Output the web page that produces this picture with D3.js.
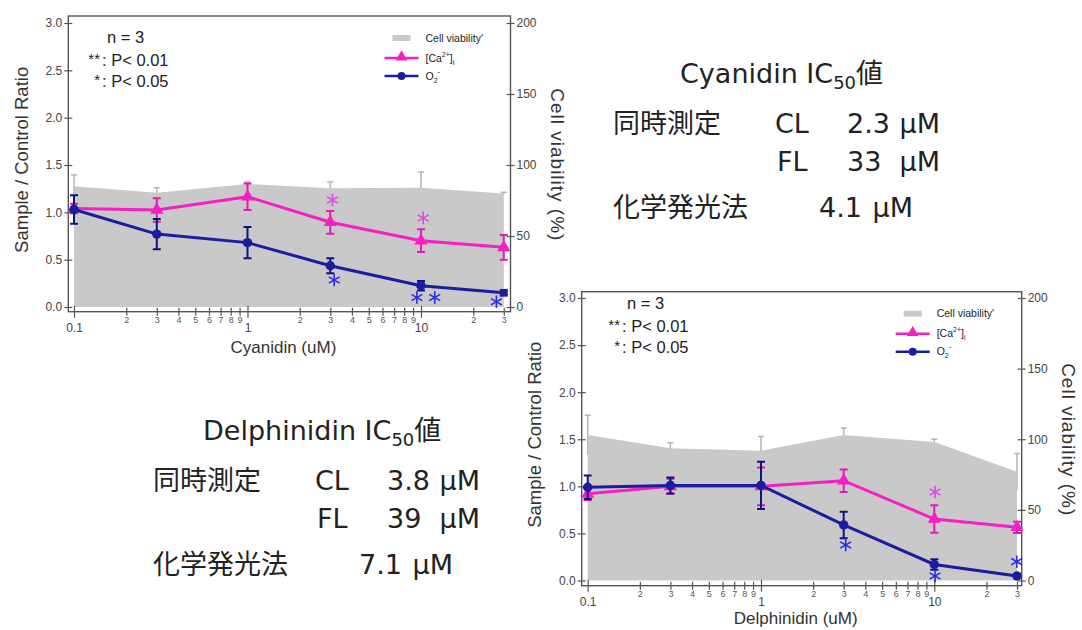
<!DOCTYPE html>
<html>
<head>
<meta charset="utf-8">
<title>Cyanidin / Delphinidin IC50</title>
<script src="https://d3js.org/d3.v7.min.js"></script>
<style>
  body { margin: 0; background: #fff; }
  svg { display: block; font-family: "Liberation Sans", Arial, sans-serif; }
  .axis text { fill: #444; }
  .axis line { stroke: #555; stroke-width: 1.2; }
  .jp { font-family: "DejaVu Sans", "Noto Sans CJK JP", sans-serif; fill: #222; font-size: 27px; }
  .jp .cjk { font-family: "Noto Sans CJK JP", sans-serif; }
</style>
</head>
<body>
<svg id="chart" width="1082" height="630"></svg>
<script>
// concentrations (uM) shared by both panels
const conc = [0.1, 0.3, 1, 3, 10, 30];

// Cyanidin panel
const cyaCa = [1.04, 1.025, 1.165, 0.895, 0.70, 0.63];
const cyaCaErr = [0.05, 0.125, 0.14, 0.12, 0.12, 0.13];
const cyaO2 = [1.03, 0.77, 0.68, 0.436, 0.225, 0.15];
const cyaO2Err = [0.15, 0.16, 0.165, 0.08, 0.05, 0.02];
const cyaViab = [85, 80.5, 86.6, 83.6, 84, 80];
const cyaViabErr = [8, 3.5, 1.5, 4.4, 11, 0.8];
const cyaCaStars = [[3.09, 1.13], [10.3, 0.94]];
const cyaO2Stars = [[3.16, 0.285], [9.47, 0.10], [12.0, 0.10], [27.2, 0.055]];

// Delphinidin panel
const delCa = [0.92, 1.0, 1.0, 1.06, 0.653, 0.565];
const delCaErr = [0.065, 0.08, 0.2, 0.12, 0.145, 0.06];
const delO2 = [0.99, 1.01, 1.01, 0.59, 0.17, 0.048];
const delO2Err = [0.125, 0.085, 0.25, 0.14, 0.055, 0.02];
const delViab = [103, 93.6, 91.9, 103, 98, 77];
const delViabErr = [14, 4, 10, 5, 2, 13];
const delCaStars = [[10.1, 0.94]];
const delO2Stars = [[3.08, 0.377], [10.1, 0.048], [29.9, 0.20]];

// axis ticks
const ratioTicks = [0, 0.5, 1, 1.5, 2, 2.5, 3];
const viabTicks = [0, 50, 100, 150, 200];
const majorTicks = [0.1, 1, 10];
const minorTicks = [0.2, 0.3, 0.4, 0.5, 0.6, 0.7, 0.8, 0.9, 2, 3, 4, 5, 6, 7, 8, 9, 20, 30];

// IC50 tables
const cyaTable = { name: "Cyanidin", cl: "2.3", fl: "33", chem: "4.1" };
const delTable = { name: "Delphinidin", cl: "3.8", fl: "39", chem: "7.1" };

const MAG = "#f71ec2", MAG_ERR = "#e21ab6", MAG_STAR = "#d94ce0";
const BLUE = "#1c1ca0", BLUE_ERR = "#12127e", BLUE_STAR = "#2c2ce2";
const GRAY = "#c9c9c9", GRAY_ERR = "#b5b5b5";

const svg = d3.select("#chart");

function drawChart(c) {
  const x = d3.scaleLog().domain([0.1, 10]).range([c.x01, c.x10]);
  const y = d3.scaleLinear().domain([0, 3]).range([c.y0, c.y3]);
  const yR = d3.scaleLinear().domain([0, 200]).range([c.y0, c.y3]);
  const g = svg.append("g");

  // viability error bars (drawn under the fill, like the original)
  const viab = conc.map((d, i) => ({ c: d, v: c.viab[i], e: c.viabErr[i] }));
  g.selectAll(".verr").data(viab).join("path")
    .attr("d", d => `M${x(d.c)},${yR(d.v - d.e)}V${yR(d.v + d.e)}M${x(d.c) - 3},${yR(d.v + d.e)}h6`)
    .attr("stroke", GRAY_ERR).attr("stroke-width", 1.5).attr("fill", "none");

  g.append("path").datum(viab)
    .attr("d", d3.area().x(d => x(d.c)).y0(yR(0)).y1(d => yR(d.v)))
    .attr("fill", GRAY);

  // axes
  const left = g.append("g").attr("class", "axis").attr("transform", `translate(${c.left},0)`)
    .call(d3.axisLeft(y).tickValues(ratioTicks).tickFormat(d3.format(".1f")).tickSize(0).tickPadding(6));
  left.selectAll(".tick line").attr("x1", -4).attr("x2", 4);
  left.selectAll("text").style("font-size", "12px");

  const right = g.append("g").attr("class", "axis").attr("transform", `translate(${c.right},0)`)
    .call(d3.axisRight(yR).tickValues(viabTicks).tickSize(0).tickPadding(6));
  right.selectAll(".tick line").attr("x1", -4).attr("x2", 4);
  right.selectAll("text").style("font-size", "12px");

  const bottomMajor = g.append("g").attr("class", "axis").attr("transform", `translate(0,${c.bottom})`)
    .call(d3.axisBottom(x).tickValues(majorTicks).tickFormat(d => String(d)).tickSize(0));
  bottomMajor.selectAll(".tick line").attr("y1", -6).attr("y2", 6);
  bottomMajor.selectAll("text").attr("y", 20.5).attr("dy", 0).style("font-size", "12px");

  const bottomMinor = g.append("g").attr("class", "axis").attr("transform", `translate(0,${c.bottom})`)
    .call(d3.axisBottom(x).tickValues(minorTicks)
      .tickFormat(d => String(Math.round(d / Math.pow(10, Math.floor(Math.log10(d) + 1e-9))))).tickSize(0));
  bottomMinor.selectAll(".tick line").attr("y1", -4).attr("y2", 4);
  bottomMinor.selectAll("text").attr("y", 11).attr("dy", 0).style("font-size", "9px").style("fill", "#555");

  g.selectAll(".axis .domain").remove();
  g.append("rect")
    .attr("x", c.left).attr("y", c.top)
    .attr("width", c.right - c.left).attr("height", c.bottom - c.top)
    .attr("fill", "none").attr("stroke", "#555").attr("stroke-width", 1.4);

  // series
  const series = [
    { v: c.ca, e: c.caErr, col: MAG, ecol: MAG_ERR, mark: "tri" },
    { v: c.o2, e: c.o2Err, col: BLUE, ecol: BLUE_ERR, mark: "dot" }
  ];
  series.forEach(s => {
    const pts = conc.map((d, i) => ({ c: d, v: s.v[i], e: s.e[i], i }));
    g.append("path").datum(pts)
      .attr("d", d3.line().x(d => x(d.c)).y(d => y(d.v)))
      .attr("fill", "none").attr("stroke", s.col).attr("stroke-width", 3);
    g.selectAll(null).data(pts).join("path")
      .attr("d", d => `M${x(d.c)},${y(d.v - d.e)}V${y(d.v + d.e)}M${x(d.c) - 4},${y(d.v + d.e)}h8M${x(d.c) - 4},${y(d.v - d.e)}h8`)
      .attr("stroke", s.ecol).attr("stroke-width", 2).attr("fill", "none");
    g.selectAll(null).data(pts).join("path")
      .attr("transform", d => `translate(${x(d.c)},${y(d.v)})`)
      .attr("d", d => {
        if (s.mark === "tri") return d3.symbol(d3.symbolTriangle, 75)();
        if (c.lastSquare && d.i === conc.length - 1) return d3.symbol(d3.symbolSquare, 60)();
        return d3.symbol(d3.symbolCircle, 70)();
      })
      .attr("fill", s.col);
  });

  // significance marks
  const star = d3.symbol(d3.symbolAsterisk, 110);
  [[c.caStars, MAG_STAR], [c.o2Stars, BLUE_STAR]].forEach(([list, col]) => {
    g.selectAll(null).data(list).join("path")
      .attr("transform", d => `translate(${x(d[0])},${y(d[1])})`)
      .attr("d", star()).attr("fill", "none").attr("stroke", col).attr("stroke-width", 1.6);
  });

  // axis titles
  const midY = (c.top + c.bottom) / 2;
  g.append("text").attr("transform", `translate(${c.left - 47},${midY - 4}) rotate(-90)`)
    .attr("text-anchor", "middle").attr("dy", "0.35em").style("font-size", "18.5px").style("fill", "#333")
    .text("Sample / Control Ratio");
  g.append("text").attr("transform", `translate(${c.right + 47},${midY + 1}) rotate(90)`)
    .attr("text-anchor", "middle").attr("dy", "0.35em").style("font-size", "19px")
    .style("letter-spacing", "1px").style("fill", "#333")
    .text("Cell viability (%)");
  g.append("text").attr("x", (c.left + c.right) / 2 - 6).attr("y", c.bottom + c.xTitleDy)
    .attr("text-anchor", "middle").style("font-size", "17px").style("fill", "#333")
    .text(c.xTitle);

  // n / p-value note
  const note = g.append("g").style("font-size", "16.5px").style("fill", "#222");
  note.append("text").attr("x", c.colonX + 5).attr("y", c.noteY).attr("dy", "0.35em").text("n = 3");
  note.append("text").attr("x", c.colonX - 2).attr("y", c.noteY + 22).attr("dy", "0.35em")
    .attr("text-anchor", "end").style("font-size", "15px").text("**");
  note.append("text").attr("x", c.colonX).attr("y", c.noteY + 23).attr("dy", "0.35em").text(": P< 0.01");
  note.append("text").attr("x", c.colonX - 2).attr("y", c.noteY + 43).attr("dy", "0.35em")
    .attr("text-anchor", "end").style("font-size", "15px").text("*");
  note.append("text").attr("x", c.colonX).attr("y", c.noteY + 44).attr("dy", "0.35em").text(": P< 0.05");

  // legend
  const lg = g.append("g").style("font-size", "10.5px").style("fill", "#222");
  const lx = c.right;
  lg.append("rect").attr("x", lx - 118).attr("y", c.top + 19).attr("width", 18).attr("height", 6).attr("fill", GRAY);
  lg.append("text").attr("x", lx - 85).attr("y", c.top + 22).attr("dy", "0.35em").text("Cell viability'");
  lg.append("line").attr("x1", lx - 126).attr("x2", lx - 92).attr("y1", c.top + 42).attr("y2", c.top + 42)
    .attr("stroke", MAG).attr("stroke-width", 2.5);
  lg.append("path").attr("transform", `translate(${lx - 109},${c.top + 41})`)
    .attr("d", d3.symbol(d3.symbolTriangle, 60)()).attr("fill", MAG);
  const ca = lg.append("text").attr("x", lx - 85).attr("y", c.top + 42).attr("dy", "0.35em");
  ca.append("tspan").text("[Ca");
  ca.append("tspan").attr("dy", -5).style("font-size", "7px").text("2+");
  ca.append("tspan").attr("dy", 5).text("]");
  ca.append("tspan").attr("dy", 3).style("font-size", "7px").text("i");
  lg.append("line").attr("x1", lx - 126).attr("x2", lx - 92).attr("y1", c.top + 60).attr("y2", c.top + 60)
    .attr("stroke", BLUE).attr("stroke-width", 2.5);
  lg.append("path").attr("transform", `translate(${lx - 109},${c.top + 60})`)
    .attr("d", d3.symbol(d3.symbolCircle, 50)()).attr("fill", BLUE);
  const o2 = lg.append("text").attr("x", lx - 85).attr("y", c.top + 60).attr("dy", "0.35em");
  o2.append("tspan").text("O");
  o2.append("tspan").attr("dy", 3).style("font-size", "7px").text("2");
  o2.append("tspan").attr("dy", -9).style("font-size", "8px").text("-");
}

function drawTable(t, p) {
  const g = svg.append("g").attr("class", "jp");
  const head = g.append("text").attr("x", p.headX).attr("y", p.y);
  head.append("tspan").text(t.name + " IC");
  head.append("tspan").attr("dy", 6).style("font-size", "18px").text("50");
  head.append("tspan").attr("class", "cjk").attr("dy", -6).text("値");
  g.append("text").attr("class", "cjk").attr("x", p.x).attr("y", p.y + 50).text("同時測定");
  g.append("text").attr("x", p.x + 162).attr("y", p.y + 50).text("CL");
  g.append("text").attr("x", p.x + 234).attr("y", p.y + 50).text(t.cl);
  g.append("text").attr("x", p.x + 327).attr("y", p.y + 50).attr("text-anchor", "end").text("μM");
  g.append("text").attr("x", p.x + 164).attr("y", p.y + 88).text("FL");
  g.append("text").attr("x", p.x + 234).attr("y", p.y + 88).text(t.fl);
  g.append("text").attr("x", p.x + 327).attr("y", p.y + 88).attr("text-anchor", "end").text("μM");
  g.append("text").attr("class", "cjk").attr("x", p.x).attr("y", p.y + 134).text("化学発光法");
  g.append("text").attr("x", p.x + 206).attr("y", p.y + 134).text(t.chem);
  g.append("text").attr("x", p.x + 300).attr("y", p.y + 134).attr("text-anchor", "end").text("μM");
}

drawChart({
  left: 68.3, right: 510.5, top: 16, bottom: 311.7,
  x01: 74, x10: 421, y0: 307, y3: 23,
  ca: cyaCa, caErr: cyaCaErr, o2: cyaO2, o2Err: cyaO2Err,
  viab: cyaViab, viabErr: cyaViabErr,
  caStars: cyaCaStars, o2Stars: cyaO2Stars,
  lastSquare: true, xTitle: "Cyanidin (uM)", xTitleDy: 41,
  colonX: 102, noteY: 37
});

drawChart({
  left: 581.7, right: 1021.7, top: 291.7, bottom: 585.7,
  x01: 587.7, x10: 934.3, y0: 580.5, y3: 298,
  ca: delCa, caErr: delCaErr, o2: delO2, o2Err: delO2Err,
  viab: delViab, viabErr: delViabErr,
  caStars: delCaStars, o2Stars: delO2Stars,
  lastSquare: false, xTitle: "Delphinidin (uM)", xTitleDy: 38.5,
  colonX: 622, noteY: 303
});

drawTable(cyaTable, { headX: 680, x: 613, y: 83 });
drawTable(delTable, { headX: 203, x: 153, y: 440 });
</script>
</body>
</html>
